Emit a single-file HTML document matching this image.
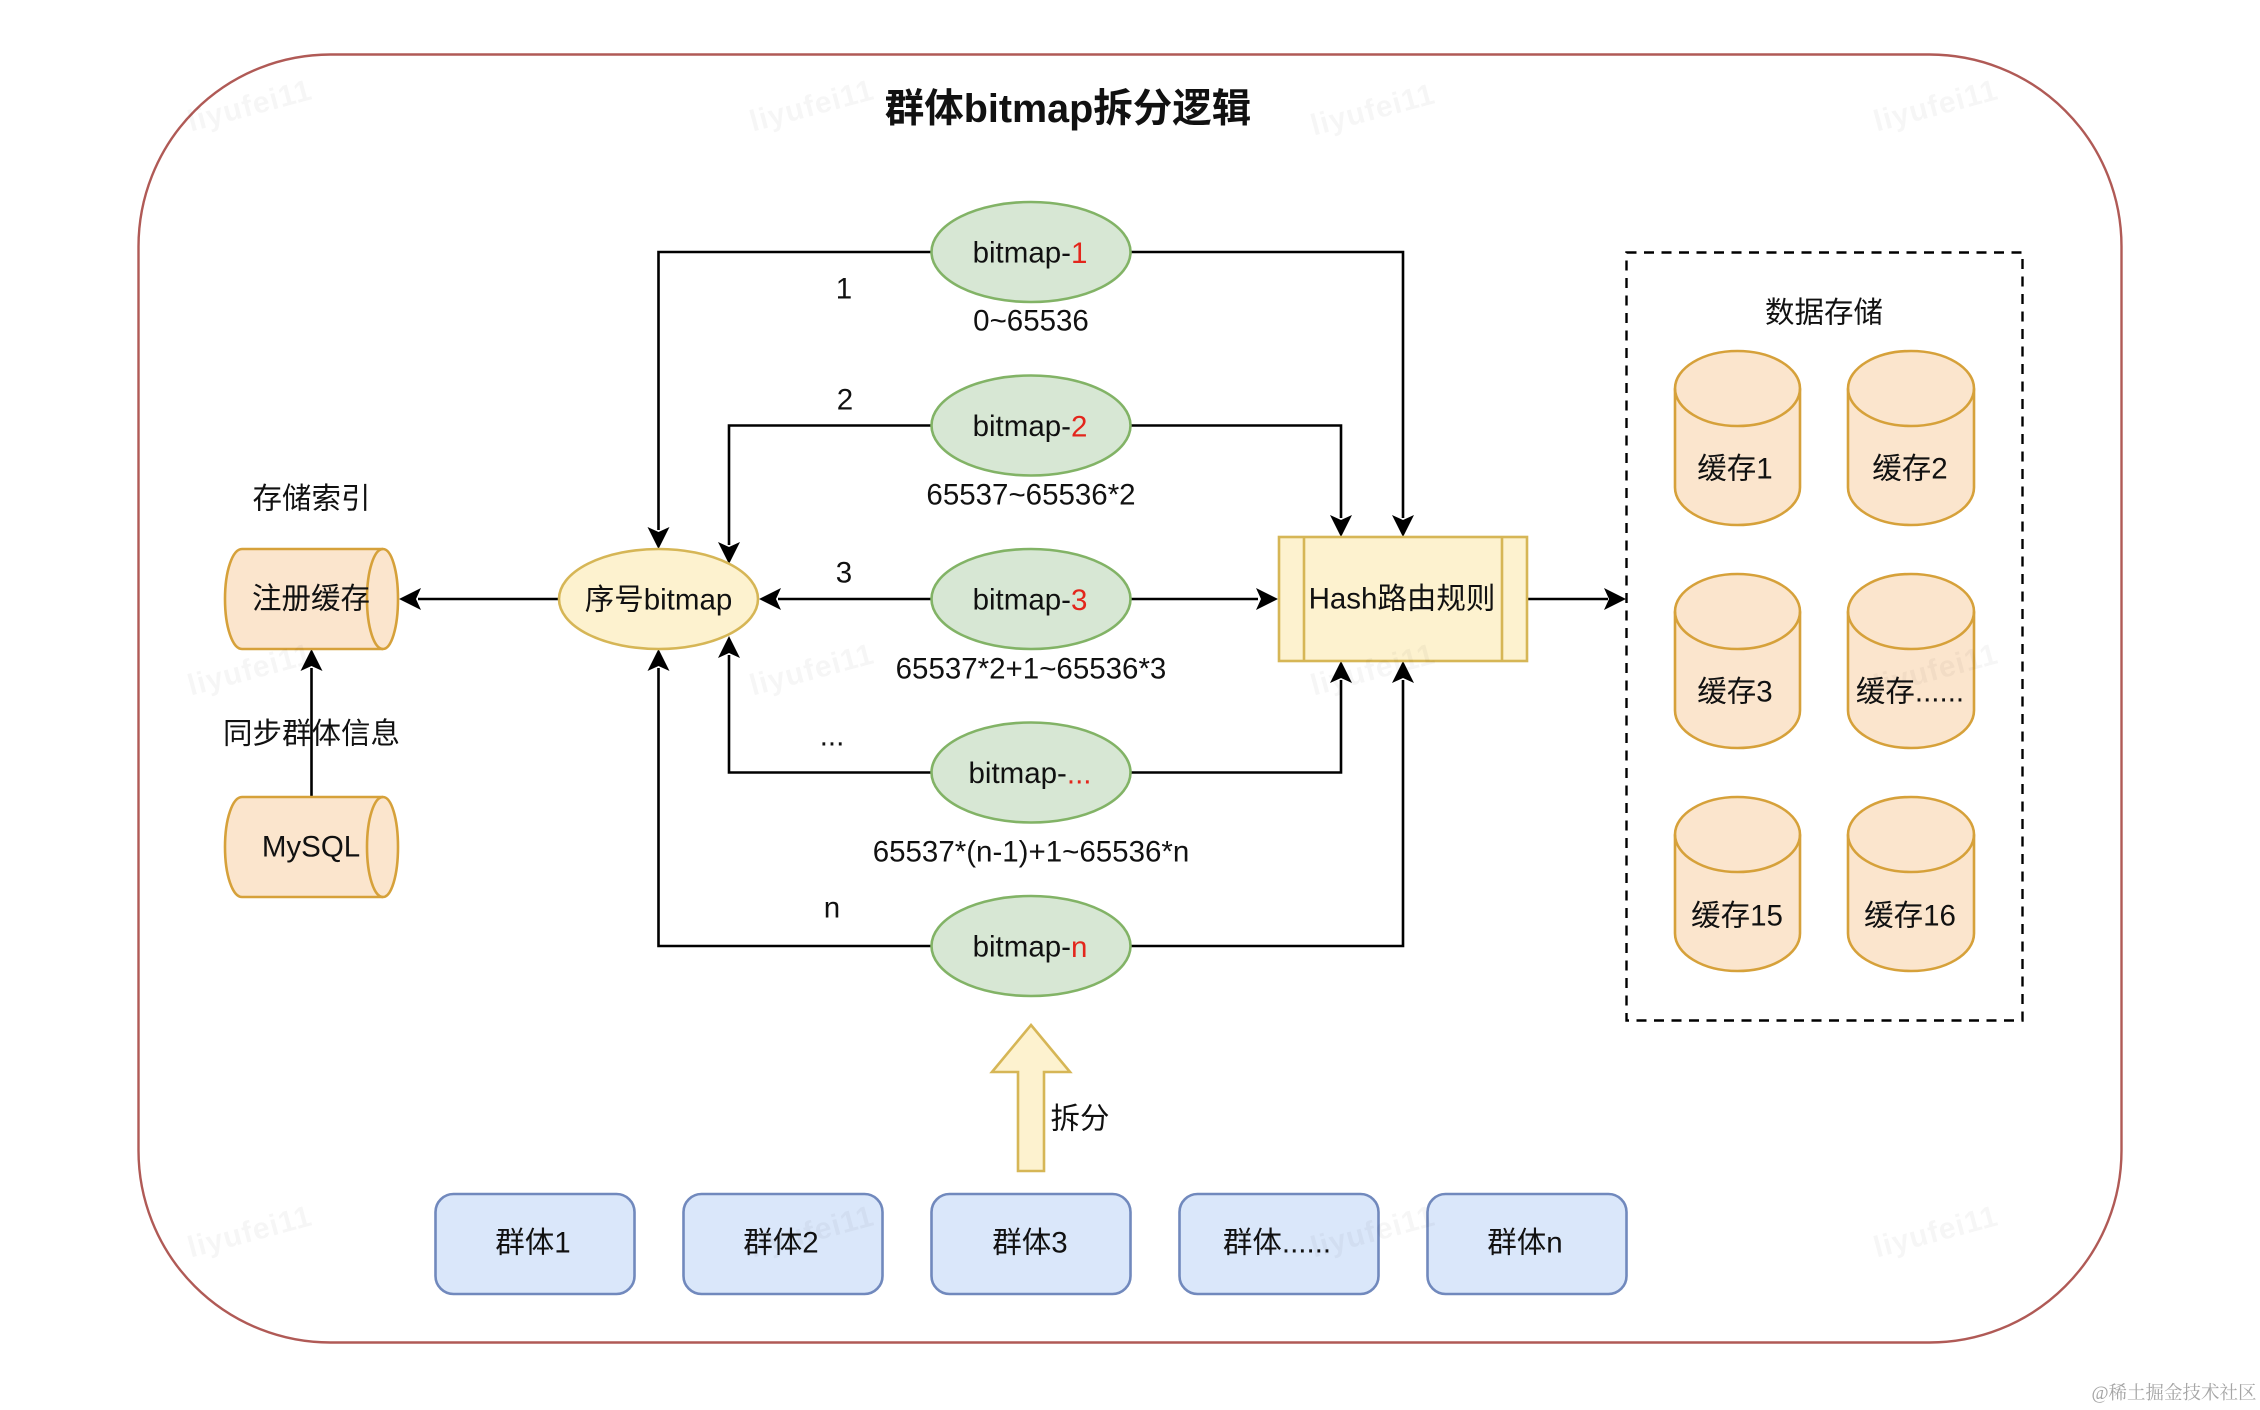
<!DOCTYPE html>
<html lang="zh">
<head>
<meta charset="utf-8">
<title>群体bitmap拆分逻辑</title>
<style>
html,body{margin:0;padding:0;background:#fff;width:2260px;height:1410px;overflow:hidden}
svg{display:block}
text{font-family:"Liberation Sans","Noto Sans CJK SC",sans-serif;font-size:29.5px;fill:#111;text-anchor:middle;dominant-baseline:central}
text:not(.wm){transform:translateY(2px)}
.wm{font-size:30px;fill:rgba(0,0,0,.035);font-weight:bold;letter-spacing:1px}
.l{fill:none;stroke:#000;stroke-width:2.6}
.or{fill:#fbe5cd;stroke:#d6a13a;stroke-width:2.6}
.gr{fill:#d7e7d4;stroke:#82b366;stroke-width:2.6}
.ye{fill:#fdf2cf;stroke:#d6b656;stroke-width:2.6}
.bl{fill:#dae7fa;stroke:#7189bd;stroke-width:2.6}
</style>
</head>
<body>
<svg width="2260" height="1410" viewBox="0 0 2260 1410" xmlns="http://www.w3.org/2000/svg">
<defs>
<polygon id="ah" points="0,0 -11,-22 0,-17 11,-22" fill="#000"/>
</defs>
<rect x="0" y="0" width="2260" height="1410" fill="#fff"/>

<!-- outer container -->
<rect x="138.500" y="54.500" width="1983" height="1288" rx="192" ry="192" fill="none" stroke="#b05a56" stroke-width="2.4"/>

<text x="1068" y="107" style="font-size:39.500px;font-weight:bold">群体bitmap拆分逻辑</text>

<!-- connectors -->
<path class="l" d="M931 252H658.500V530"/>
<path class="l" d="M931 425.500H729V545"/>
<path class="l" d="M931 772.500H729V655"/>
<path class="l" d="M931 946H658.500V668"/>
<path class="l" d="M931 599H778"/>
<path class="l" d="M1131 599H1258"/>
<path class="l" d="M1131 252H1403V518"/>
<path class="l" d="M1131 425.500H1341V518"/>
<path class="l" d="M1131 772.500H1341V680"/>
<path class="l" d="M1131 946H1403V680"/>
<path class="l" d="M1528 599H1608"/>
<path class="l" d="M559 599H418"/>
<path class="l" d="M311.500 797V668"/>
<use href="#ah" transform="translate(658.500 549)"/>
<use href="#ah" transform="translate(729 564)"/>
<use href="#ah" transform="translate(729 636) rotate(180)"/>
<use href="#ah" transform="translate(658.500 649) rotate(180)"/>
<use href="#ah" transform="translate(759 599) rotate(90)"/>
<use href="#ah" transform="translate(1278 599) rotate(-90)"/>
<use href="#ah" transform="translate(1403 537)"/>
<use href="#ah" transform="translate(1341 537)"/>
<use href="#ah" transform="translate(1341 661) rotate(180)"/>
<use href="#ah" transform="translate(1403 661) rotate(180)"/>
<use href="#ah" transform="translate(1626 599) rotate(-90)"/>
<use href="#ah" transform="translate(399 599) rotate(90)"/>
<use href="#ah" transform="translate(311.500 649) rotate(180)"/>

<!-- bitmap ellipses -->
<ellipse class="gr" cx="1031" cy="252" rx="99.500" ry="50"/>
<ellipse class="gr" cx="1031" cy="425.500" rx="99.500" ry="50"/>
<ellipse class="gr" cx="1031" cy="599" rx="99.500" ry="50"/>
<ellipse class="gr" cx="1031" cy="772.500" rx="99.500" ry="50"/>
<ellipse class="gr" cx="1031" cy="946" rx="99.500" ry="50"/>
<text x="1030" y="251">bitmap-<tspan fill="#e3261c">1</tspan></text>
<text x="1030" y="424.500">bitmap-<tspan fill="#e3261c">2</tspan></text>
<text x="1030" y="598">bitmap-<tspan fill="#e3261c">3</tspan></text>
<text x="1030" y="771.500">bitmap-<tspan fill="#e3261c">...</tspan></text>
<text x="1030" y="945">bitmap-<tspan fill="#e3261c">n</tspan></text>

<text x="1031" y="319">0~65536</text>
<text x="1031" y="493">65537~65536*2</text>
<text x="1031" y="667">65537*2+1~65536*3</text>
<text x="1031" y="850">65537*(n-1)+1~65536*n</text>

<text x="844" y="287">1</text>
<text x="845" y="398">2</text>
<text x="844" y="571">3</text>
<text x="832" y="734">...</text>
<text x="832" y="906">n</text>

<!-- seq bitmap -->
<ellipse class="ye" cx="658.500" cy="599" rx="99.500" ry="50"/>
<text x="658.500" y="598">序号bitmap</text>

<!-- horizontal cylinders -->
<g>
<path class="or" d="M242 549H383C391.500 549 398 571 398 599S391.500 649 383 649H242C232.500 649 225 627 225 599S232.500 549 242 549Z"/>
<path class="or" d="M383 549C374 549 367 571 367 599S374 649 383 649" style="fill:none"/>
<text x="311" y="597">注册缓存</text>
</g>
<g>
<path class="or" d="M242 797H383C391.500 797 398 819 398 847S391.500 897 383 897H242C232.500 897 225 875 225 847S232.500 797 242 797Z"/>
<path class="or" d="M383 797C374 797 367 819 367 847S374 897 383 897" style="fill:none"/>
<text x="311" y="845">MySQL</text>
</g>
<text x="311.500" y="497">存储索引</text>
<text x="311.500" y="732">同步群体信息</text>

<!-- hash box -->
<rect class="ye" x="1279" y="537" width="248" height="124"/>
<path class="ye" d="M1304 537V661M1502 537V661" style="fill:none"/>
<text x="1402" y="597">Hash路由规则</text>

<!-- data storage -->
<rect x="1626.500" y="252.500" width="396" height="768" fill="none" stroke="#000" stroke-width="2.4" stroke-dasharray="10 7.500"/>
<text x="1824" y="311">数据存储</text>

<g id="cyls">
<path class="or" d="M1675 388.500C1675 368 1703 351 1737.500 351S1800 368 1800 388.500V487.500C1800 508 1772 525 1737.500 525S1675 508 1675 487.500Z"/>
<path class="or" d="M1675 388.500C1675 409 1703 426 1737.500 426S1800 409 1800 388.500" style="fill:none"/>
<path class="or" d="M1848 388.500C1848 368 1876 351 1911 351S1974 368 1974 388.500V487.500C1974 508 1946 525 1911 525S1848 508 1848 487.500Z"/>
<path class="or" d="M1848 388.500C1848 409 1876 426 1911 426S1974 409 1974 388.500" style="fill:none"/>

<path class="or" d="M1675 611.500C1675 591 1703 574 1737.500 574S1800 591 1800 611.500V710.500C1800 731 1772 748 1737.500 748S1675 731 1675 710.500Z"/>
<path class="or" d="M1675 611.500C1675 632 1703 649 1737.500 649S1800 632 1800 611.500" style="fill:none"/>
<path class="or" d="M1848 611.500C1848 591 1876 574 1911 574S1974 591 1974 611.500V710.500C1974 731 1946 748 1911 748S1848 731 1848 710.500Z"/>
<path class="or" d="M1848 611.500C1848 632 1876 649 1911 649S1974 632 1974 611.500" style="fill:none"/>

<path class="or" d="M1675 834.500C1675 814 1703 797 1737.500 797S1800 814 1800 834.500V933.500C1800 954 1772 971 1737.500 971S1675 954 1675 933.500Z"/>
<path class="or" d="M1675 834.500C1675 855 1703 872 1737.500 872S1800 855 1800 834.500" style="fill:none"/>
<path class="or" d="M1848 834.500C1848 814 1876 797 1911 797S1974 814 1974 834.500V933.500C1974 954 1946 971 1911 971S1848 954 1848 933.500Z"/>
<path class="or" d="M1848 834.500C1848 855 1876 872 1911 872S1974 855 1974 834.500" style="fill:none"/>
</g>
<text x="1735" y="467">缓存1</text>
<text x="1910" y="467">缓存2</text>
<text x="1735" y="690">缓存3</text>
<text x="1910" y="690">缓存......</text>
<text x="1737" y="914">缓存15</text>
<text x="1910" y="914">缓存16</text>

<!-- split arrow -->
<polygon class="ye" points="1031,1025 1070,1072 1044,1072 1044,1171 1018,1171 1018,1072 992,1072"/>
<text x="1080" y="1117">拆分</text>

<!-- groups -->
<rect class="bl" x="435.500" y="1194" width="199" height="100" rx="18" ry="18"/>
<rect class="bl" x="683.500" y="1194" width="199" height="100" rx="18" ry="18"/>
<rect class="bl" x="931.500" y="1194" width="199" height="100" rx="18" ry="18"/>
<rect class="bl" x="1179.500" y="1194" width="199" height="100" rx="18" ry="18"/>
<rect class="bl" x="1427.500" y="1194" width="199" height="100" rx="18" ry="18"/>
<text x="533" y="1241">群体1</text>
<text x="781" y="1241">群体2</text>
<text x="1030" y="1241">群体3</text>
<text x="1277" y="1241">群体......</text>
<text x="1525" y="1241">群体n</text>

<!-- site mark -->
<text x="2174" y="1392" style="font-size:18.500px;fill:#a5a5a5;font-family:'Liberation Serif','Noto Serif CJK SC',serif">@稀土掘金技术社区</text>

<!-- watermarks -->
<g>
<text class="wm" transform="translate(250 106) rotate(-15)">liyufei11</text>
<text class="wm" transform="translate(812 106) rotate(-15)">liyufei11</text>
<text class="wm" transform="translate(1373 110) rotate(-15)">liyufei11</text>
<text class="wm" transform="translate(1936 106) rotate(-15)">liyufei11</text>
<text class="wm" transform="translate(250 670) rotate(-15)">liyufei11</text>
<text class="wm" transform="translate(812 670) rotate(-15)">liyufei11</text>
<text class="wm" transform="translate(1373 670) rotate(-15)">liyufei11</text>
<text class="wm" transform="translate(1936 670) rotate(-15)">liyufei11</text>
<text class="wm" transform="translate(250 1232) rotate(-15)">liyufei11</text>
<text class="wm" transform="translate(812 1232) rotate(-15)">liyufei11</text>
<text class="wm" transform="translate(1373 1232) rotate(-15)">liyufei11</text>
<text class="wm" transform="translate(1936 1232) rotate(-15)">liyufei11</text>
</g>
</svg>
</body>
</html>
